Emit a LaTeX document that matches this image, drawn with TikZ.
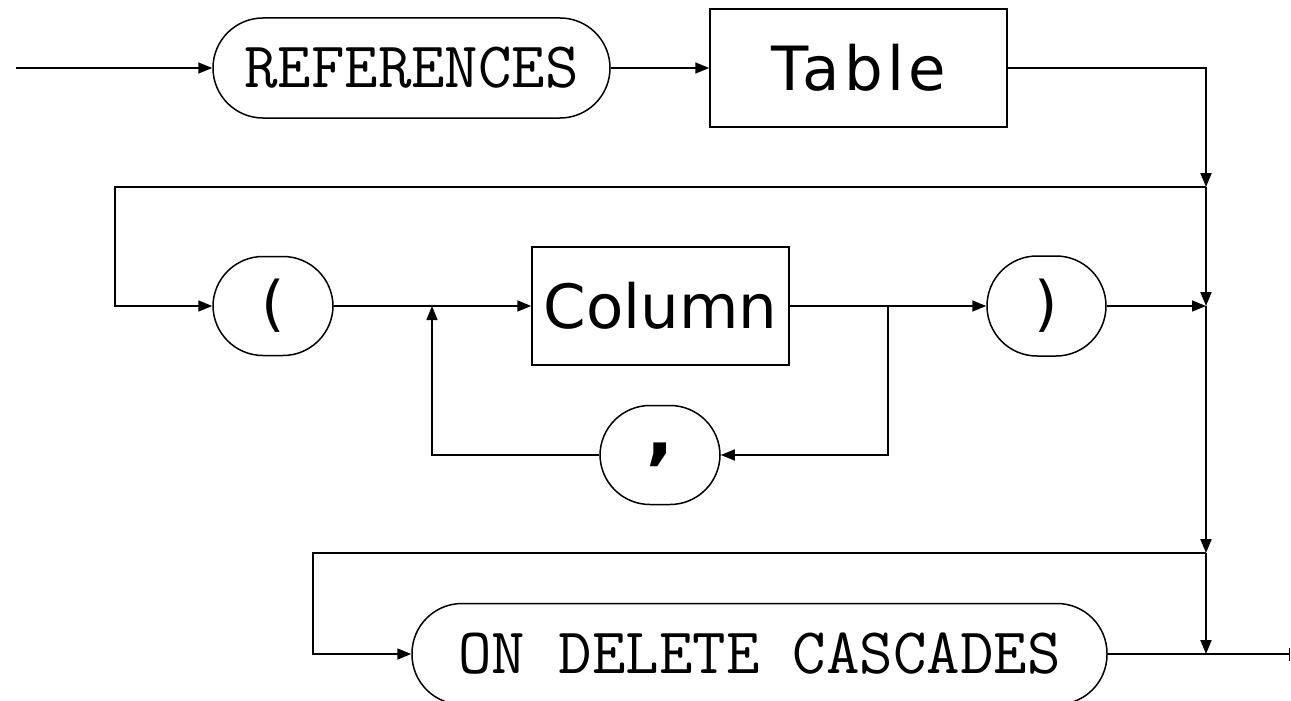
\documentclass[tikz,border=0pt]{standalone}
\usepackage{fontspec}
\newfontfamily\ntfont{DejaVu Sans}
\newfontfamily\ntwide[LetterSpace=7]{DejaVu Sans}
\usetikzlibrary{arrows.meta}
\tikzset{
  every picture/.style={x=1pt,y=-1pt},
  conn/.style={line width=1.5pt},
  arr/.style={conn,-{Triangle[length=14pt,width=11pt]}},
  termbox/.style={draw,line width=1.5pt,rounded corners=50pt,inner sep=0pt,
    font=\ttfamily\fontsize{65}{65}\selectfont},
  symbox/.style={draw,line width=1.5pt,rounded corners=50pt,inner sep=0pt,
    font=\ntfont\fontsize{60}{60}\selectfont},
  ntbox/.style={draw,line width=1.5pt,inner sep=0pt,
    font=\ntfont\fontsize{61}{61}\selectfont},
}
\begin{document}
\begin{tikzpicture}
\useasboundingbox (0,0) rectangle (1291,701);
% nodes
\node[termbox,minimum width=397pt,minimum height=100pt] (ref) at (411.5,68) {REFERENCES};
\node[ntbox,minimum width=297pt,minimum height=118pt,font=\ntwide\fontsize{61}{61}\selectfont] (tab) at (858.5,68) {Table};
\node[symbox,minimum width=120pt,minimum height=99pt] (lp) at (273,306) {(};
\node[ntbox,minimum width=257pt,minimum height=118pt] (col) at (660.5,306) {Column};
\node[symbox,minimum width=119pt,minimum height=100pt] (rp) at (1046.5,306) {)};
\node[symbox,minimum width=120pt,minimum height=99pt,font=\ntfont\bfseries\fontsize{72}{72}\selectfont] (comma) at (660,455) {,};
\node[termbox,minimum width=695pt,minimum height=101pt] (casc) at (759.5,654) {ON DELETE CASCADES};
% coordinates
\coordinate (start) at (16,68);
\coordinate (j1) at (1206,187);
\coordinate (j2) at (1206,306);
\coordinate (j3) at (1206,553);
\coordinate (j4) at (1206,654);
\coordinate (fin) at (1290,654);
\coordinate (l1) at (115,187);
\coordinate (l2) at (313,553);
\coordinate (b1) at (432,306);
\coordinate (b2) at (888,306);
% connectors
\draw[arr] (start) -- (ref);
\draw[arr] (ref) -- (tab);
\draw[arr,line width=2pt] (tab.east) -| (j1);
\draw[arr,line width=2pt] (j1) -- (j2);
\draw[arr,line width=2pt] (j2) -- (j3);
\draw[arr,line width=2pt] (j3) -- (j4);
\draw[arr] (j1) -- (l1) |- (lp);
\draw[arr] (lp) -- (col);
\draw[arr] (col) -- (rp);
\draw[arr] (b2) |- (comma);
\draw[arr] (comma) -| (b1);
\draw[arr] (rp) -- (j2);
\draw[arr] (j3) -- (l2) |- (casc);
\draw[conn] (casc) -- (j4);
\draw[conn,-{Bar[width=13pt]}] (j4) -- (fin);
\end{tikzpicture}
\end{document}
